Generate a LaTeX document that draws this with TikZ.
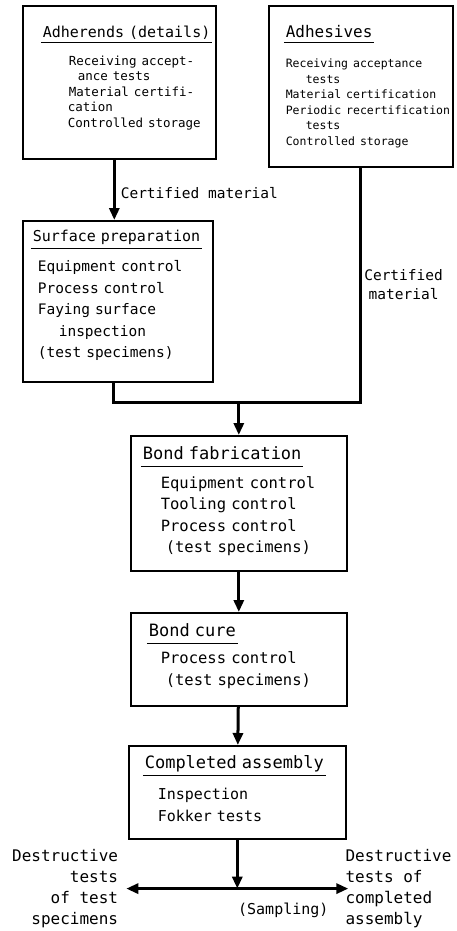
\documentclass[tikz,border=0pt]{standalone}
\usepackage{fontspec}
\setmainfont{DejaVu Sans Mono}
\usetikzlibrary{arrows.meta,positioning}
\setlength{\arrayrulewidth}{0.9pt}
\hyphenpenalty=10000
% underlined box heading
\newcommand{\hd}[2][0pt]{\hspace*{#1}\begin{tabular}[t]{@{\hspace{2pt}}l@{\hspace{2pt}}}#2\\\hline\end{tabular}}
\newcommand{\ind}[1]{\hspace*{#1}}
\newcommand{\pad}[1]{\rule[-#1]{0pt}{#1}}
\newcommand{\sqz}{\fontsize{12.5}{15.5}\selectfont}
\newcommand{\ttl}{\fontsize{17}{21.5}\selectfont}

\begin{document}
\begin{tikzpicture}[x=1pt,y=-1pt,>={Triangle[length=12pt,width=10pt]},
    font=\fontsize{15}{21.5}\selectfont,
    stage/.style={draw,line width=1.6pt,anchor=north west,align=left,
      inner xsep=4pt,inner ysep=0pt},
    flow/.style={line width=3pt,->},
    wire/.style={line width=3pt},
    lbl/.style={inner sep=2pt}]
  \useasboundingbox[fill=white] (0,0) rectangle (457,931);
  % top row
  \node[stage,text width=185pt,minimum height=153pt] (adh) at (22,5) {
    \sqz\hd[14pt]{\fontsize{15}{15.5}\selectfont Adherends (details)}\\[12pt]
    \ind{42pt}Receiving accept-\\
    \ind{51pt}ance tests\\
    \ind{42pt}Material certifi-\\
    \ind{41pt}cation\\
    \ind{41pt}Controlled storage\pad{11pt}\\
  };
  \node[stage,text width=180pt,inner xsep=2pt,minimum height=161pt] (ahs) at (268,5) {
    \fontsize{11.5}{15.5}\selectfont
    \hd[13pt]{\fontsize{16}{15.5}\selectfont Adhesives}\\[15pt]
    \ind{15pt}Receiving acceptance\\
    \ind{35pt}tests\\
    \ind{15pt}Material certification\\
    \ind{15pt}Periodic recertification\\
    \ind{35pt}tests\\
    \ind{15pt}Controlled storage\\
  };
  \node[stage,text width=182pt,minimum height=161pt,
        font=\fontsize{14.5}{21.5}\selectfont] (srf) at (22,220) {
    \hd[4pt]{\fontsize{15}{21.5}\selectfont Surface preparation}\\[9pt]
    \ind{11pt}Equipment control\\
    \ind{11pt}Process control\\
    \ind{11pt}Faying surface\\
    \ind{32pt}inspection\\
    \ind{11pt}(test specimens)\pad{19pt}\\
  };
  % centre column
  \node[stage,text width=208pt,minimum height=135pt,
        font=\fontsize{15.5}{21.5}\selectfont] (fab) at (130,435) {
    \hd[6pt]{\ttl Bond fabrication}\\[7pt]
    \ind{26pt}Equipment control\\
    \ind{26pt}Tooling control\\
    \ind{26pt}Process control\\
    \ind{31pt}(test specimens)\pad{9pt}\\
  };
  \node[stage,text width=208pt,minimum height=93pt,
        font=\fontsize{15.5}{21.5}\selectfont] (cure) at (130,612) {
    \hd[12pt]{\ttl Bond cure}\\[6pt]
    \ind{26pt}Process control\\
    \ind{31pt}(test specimens)\pad{12pt}\\
  };
  \node[stage,text width=209pt,minimum height=93pt] (asm) at (128,745) {
    \hd[10pt]{\ttl Completed assembly}\\[10pt]
    \ind{25pt}Inspection\\
    \ind{25pt}Fokker tests\pad{10pt}\\
  };
  % connectors
  \coordinate (mrg) at ([yshift=33pt]fab.north);
  \draw[flow] ([xshift=-5pt]adh.south) -- node[lbl,right,xshift=3pt,yshift=-3pt,
      font=\fontsize{14.5}{18}\selectfont] (cm1) {Certified material}
    ([xshift=-5pt]adh.south |- srf.north);
  \draw[wire] (ahs.south) -- node[lbl,right,align=center,
      font=\fontsize{14.5}{18.5}\selectfont] (cm2) {Certified\\material}
    (ahs.south |- mrg) -- (mrg);
  \draw[wire] ([xshift=-4pt]srf.south) |- (mrg);
  \draw[flow] (mrg) -- (fab.north);
  \draw[flow] (fab) -- (cure);
  \draw[flow] (cure) -- (asm);
  % sampling
  \coordinate (spl) at ([yshift=-49pt]asm.south);
  \draw[flow] (asm.south) -- (spl);
  \node[lbl,align=right,anchor=east,font=\fontsize{16}{21}\selectfont] (dl)
    at ([xshift=-117pt]spl) {Destructive\\tests\\of test\\specimens};
  \node[lbl,align=left,anchor=west,font=\fontsize{16}{21}\selectfont] (dr)
    at ([xshift=106pt]spl) {Destructive\\tests of\\completed\\assembly};
  \node[lbl] (smp) at ([xshift=46pt,yshift=-22pt]spl) {(Sampling)};
  \draw[flow] (spl) -- ([xshift=6pt]dl.east);
  \draw[flow] (spl) -- ([xshift=5pt]dr.west);
\end{tikzpicture}
\end{document}
